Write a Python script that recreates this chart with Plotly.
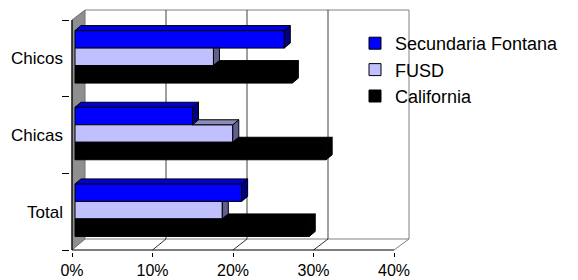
import plotly.graph_objects as go

# ---------------- data ----------------
categories = ["Total", "Chicas", "Chicos"]
series_names = ["Secundaria Fontana", "FUSD", "California"]
secundaria = [0.207, 0.146, 0.260]
fusd = [0.183, 0.196, 0.172]
california = [0.291, 0.312, 0.270]
x_ticks = [0, 0.1, 0.2, 0.3, 0.4]
x_tick_labels = ["0%", "10%", "20%", "30%", "40%"]

# ---------------- styles ----------------
front_colors = ["#0000FF", "#C0C0FF", "#000000"]
top_colors = ["#0000D8", "#8C8CB8", "#000000"]
side_colors = ["#000080", "#606090", "#000000"]
FONT = "Liberation Sans, Arial, sans-serif"

W, H = 578, 280
PL, PR, PT, PB = 70, 412, 8, 252          # plot area edges (px)
FX0, FX40 = 72, 394                        # front plane 0% / 40% (px)
FY_TOP, FY_BOT = 20, 250                   # front category band edges (px)
BX0, BSC, BY_TOP, BY_BOT = 85, 810, 10, 239  # back wall geometry (px)
sx = (FX40 - FX0) / 0.4
sy = (FY_BOT - FY_TOP) / 3.0


def X(px):
    return (px - FX0) / sx


def Y(py):
    return 2.5 - (py - FY_TOP) / sy


x_range = [X(PL), X(PR)]
y_range = [Y(PB), Y(PT)]

ypos = list(range(len(categories)))
base = X(75)
bw = 17.5 / sy
shift = 1.5 / sy
offsets = [shift + bw / 2, shift - bw / 2, shift - 1.5 * bw]
dx = 6 / sx
dy = 5 / sy

series = [secundaria, fusd, california]

fig = go.Figure()

# front faces (bars)
for i, (name, vals) in enumerate(zip(series_names, series)):
    fig.add_trace(go.Bar(
        y=ypos, x=vals, base=base, orientation="h", name=name,
        width=bw, offset=offsets[i],
        marker=dict(color=front_colors[i], line=dict(color="black", width=1)),
        hoverinfo="skip",
    ))

# 3D top and side faces derived from the same values
for i, vals in enumerate(series):
    tops_x, tops_y, sides_x, sides_y = [], [], [], []
    for j, yc in enumerate(ypos):
        b = base
        e = base + vals[j]
        yb = yc + offsets[i]
        yt = yb + bw
        above = base + series[i - 1][j] if i > 0 else None
        # top face
        left = b if above is None else max(b, above)
        if above is None or e > above:
            tops_x += [left, e, e + dx, left + dx, left, None]
            tops_y += [yt, yt, yt + dy, yt + dy, yt, None]
        # side face
        if above is None or above <= e:
            sides_x += [e, e + dx, e + dx, e, e, None]
            sides_y += [yb, yb + dy, yt + dy, yt, yb, None]
        elif above >= e + dx:
            sides_x += [e, e + dx, e + dx, e, e, None]
            sides_y += [yb, yb + dy, yt, yt, yb, None]
        else:
            yy = yt + (above - e) / dx * dy
            sides_x += [e, e + dx, e + dx, above, above, e, e, None]
            sides_y += [yb, yb + dy, yt + dy, yy, yt, yt, yb, None]
    fig.add_trace(go.Scatter(x=sides_x, y=sides_y, mode="lines", fill="toself",
                             fillcolor=side_colors[i], line=dict(color="black", width=1),
                             showlegend=False, hoverinfo="skip"))
    fig.add_trace(go.Scatter(x=tops_x, y=tops_y, mode="lines", fill="toself",
                             fillcolor=top_colors[i], line=dict(color="black", width=1),
                             showlegend=False, hoverinfo="skip"))

# ---------------- 3D frame ----------------
shapes = []


def line(x0, y0, x1, y1, color, width=1, layer="below"):
    shapes.append(dict(type="line", x0=X(x0), y0=Y(y0), x1=X(x1), y1=Y(y1),
                       line=dict(color=color, width=width), layer=layer))


# left wall
wall = [(FX0, FY_TOP), (BX0, BY_TOP), (BX0, BY_BOT), (FX0, FY_BOT)]
path = "M " + " L ".join(f"{X(a)},{Y(b)}" for a, b in wall) + " Z"
shapes.append(dict(type="path", path=path, fillcolor="#8f8f8f",
                   line=dict(color="#707070", width=1), layer="below"))
# back wall edges
BX40 = BX0 + 0.4 * BSC
line(BX0, BY_TOP, BX40, BY_TOP, "#808080")
line(BX40, BY_TOP, BX40, BY_BOT, "#808080")
line(BX0, BY_BOT, BX40, BY_BOT, "#808080")
line(BX40, BY_BOT, FX40, FY_BOT, "#808080")
# gridlines on back wall and floor
for v in x_ticks[1:-1]:
    bx = BX0 + v * BSC
    fx = FX0 + v * sx
    line(bx, BY_TOP, bx, BY_BOT, "#404040")
    line(fx, FY_BOT, bx, BY_BOT, "#303030")
# front axes
line(FX0, FY_BOT, FX40, FY_BOT, "#000000", 1.2)
line(FX0, FY_TOP, FX0, FY_BOT, "#000000", 1.2)

fig.update_layout(
    width=W, height=H,
    margin=dict(l=PL, r=W - PR, t=PT, b=H - PB, pad=0, autoexpand=False),
    paper_bgcolor="white", plot_bgcolor="white",
    font=dict(family=FONT, size=17, color="black"),
    shapes=shapes,
    showlegend=True,
    legend=dict(x=(355 - PL) / (PR - PL), y=(PB - 25) / (PB - PT),
                xanchor="left", yanchor="top", bgcolor="rgba(0,0,0,0)",
                font=dict(family=FONT, size=18, color="black"),
                tracegroupgap=0, itemclick=False),
    xaxis=dict(range=x_range, tickmode="array", tickvals=x_ticks, ticktext=x_tick_labels,
               ticks="outside", ticklen=4, tickcolor="black", showgrid=False,
               zeroline=False, showline=False, ticklabelstandoff=0, automargin=False,
               tickfont=dict(family=FONT, size=16, color="black")),
    yaxis=dict(range=y_range, tickmode="array", tickvals=ypos, ticktext=categories,
               ticks="", showgrid=False, zeroline=False, showline=False,
               ticklabelstandoff=6, automargin=False,
               minor=dict(tickmode="array", tickvals=[-0.5, 0.5, 1.5, 2.5],
                          ticks="outside", ticklen=7, tickcolor="black", showgrid=False),
               tickfont=dict(family=FONT, size=17, color="black")),
)

fig.write_html("out.html", config={"displayModeBar": False, "staticPlot": True},
               post_script="document.body.style.margin='0px';document.body.style.overflow='hidden';")
